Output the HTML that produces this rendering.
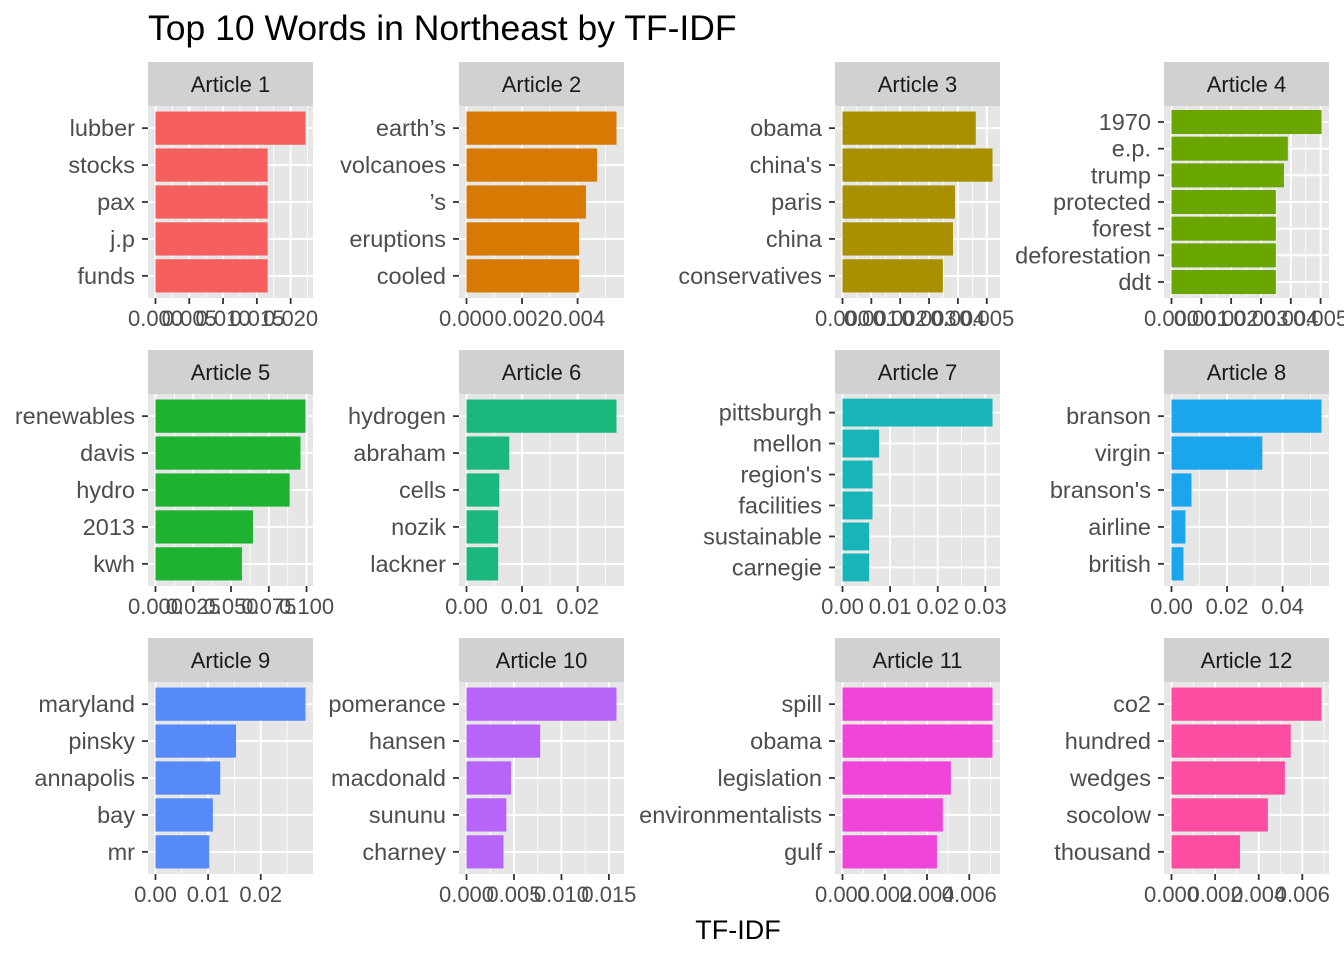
<!DOCTYPE html>
<html><head><meta charset="utf-8"><style>
html,body{margin:0;padding:0;background:#fff;}
svg text{font-family:"Liberation Sans",Arial,sans-serif;}
</style></head><body>
<svg id="chart" width="1344" height="960" viewBox="0 0 1344 960" xmlns="http://www.w3.org/2000/svg">
<rect width="1344" height="960" fill="#fff"/>
<text x="148" y="40" font-size="35.5" fill="#000">Top 10 Words in Northeast by TF-IDF</text>
<text x="738" y="939" font-size="27" fill="#000" text-anchor="middle">TF-IDF</text>
<g id="panels"></g>
</svg>
<script>
const articles = ["Article 1","Article 2","Article 3","Article 4","Article 5","Article 6","Article 7","Article 8","Article 9","Article 10","Article 11","Article 12"];
const words1 = ["lubber","stocks","pax","j.p","funds"];
const values1 = [0.0222,0.0166,0.0166,0.0166,0.0166];
const words2 = ["earth’s","volcanoes","’s","eruptions","cooled"];
const values2 = [0.0054,0.0047,0.0043,0.00405,0.00405];
const words3 = ["obama","china's","paris","china","conservatives"];
const values3 = [0.00462,0.0052,0.0039,0.00383,0.00348];
const words4 = ["1970","e.p.","trump","protected","forest","deforestation","ddt"];
const values4 = [0.00503,0.0039,0.00377,0.0035,0.0035,0.0035,0.0035];
const words5 = ["renewables","davis","hydro","2013","kwh"];
const values5 = [0.0993,0.096,0.0888,0.0645,0.0572];
const words6 = ["hydrogen","abraham","cells","nozik","lackner"];
const values6 = [0.027,0.0077,0.0059,0.0057,0.0057];
const words7 = ["pittsburgh","mellon","region's","facilities","sustainable","carnegie"];
const values7 = [0.0315,0.0077,0.0063,0.0063,0.0056,0.0056];
const words8 = ["branson","virgin","branson's","airline","british"];
const values8 = [0.054,0.0327,0.0072,0.005,0.0043];
const words9 = ["maryland","pinsky","annapolis","bay","mr"];
const values9 = [0.0285,0.0153,0.0123,0.0109,0.0102];
const words10 = ["pomerance","hansen","macdonald","sununu","charney"];
const values10 = [0.0158,0.00776,0.0047,0.0042,0.0039];
const words11 = ["spill","obama","legislation","environmentalists","gulf"];
const values11 = [0.0071,0.0071,0.00513,0.00475,0.00447];
const words12 = ["co2","hundred","wedges","socolow","thousand"];
const values12 = [0.00688,0.00547,0.0052,0.00442,0.00314];
const ticks1 = ["0.000","0.005","0.010","0.015","0.020"];
const ticks2 = ["0.000","0.002","0.004"];
const ticks3 = ["0.000","0.001","0.002","0.003","0.004","0.005"];
const ticks4 = ["0.000","0.001","0.002","0.003","0.004","0.005"];
const ticks5 = ["0.000","0.025","0.050","0.075","0.100"];
const ticks6 = ["0.00","0.01","0.02"];
const ticks7 = ["0.00","0.01","0.02","0.03"];
const ticks8 = ["0.00","0.02","0.04"];
const ticks9 = ["0.00","0.01","0.02"];
const ticks10 = ["0.000","0.005","0.010","0.015"];
const ticks11 = ["0.000","0.002","0.004","0.006"];
const ticks12 = ["0.000","0.002","0.004","0.006"];
const colors = ["#F55F5D","#D67A04","#A89000","#6BA600","#1DB230","#1AB87C","#17B5BA","#19A6EC","#558AF8","#B765F9","#EF45D9","#FD4DA0"];

const WORDS=[words1,words2,words3,words4,words5,words6,words7,words8,words9,words10,words11,words12];
const VALS=[values1,values2,values3,values4,values5,values6,values7,values8,values9,values10,values11,values12];
const TICKS=[ticks1,ticks2,ticks3,ticks4,ticks5,ticks6,ticks7,ticks8,ticks9,ticks10,ticks11,ticks12];
const NS="http://www.w3.org/2000/svg";
const root=document.getElementById('panels');
const colX=[148,459,835,1164], rowY=[62,350,638], PW=165, SH=44, PH=192;
function mk(tag,attrs,parent){const e=document.createElementNS(NS,tag);for(const k in attrs)e.setAttribute(k,attrs[k]);parent.appendChild(e);return e;}
articles.forEach((name,p)=>{
  const L=colX[p%4], T=rowY[Math.floor(p/4)]+SH;
  const g=mk('g',{},root);
  
  
  const strip=mk('rect',{x:L,y:T-SH,width:PW,height:SH,fill:'#d1d1d1'},g);
  
  
  const st=mk('text',{x:L+PW/2,y:T-SH/2+8,'font-size':'22','text-anchor':'middle',fill:'#1a1a1a'},g);
  st.textContent=name;
  
  
  const bg=mk('rect',{x:L,y:T,width:PW,height:PH,fill:'#e6e6e6'},g);
  
  
  const vals=VALS[p], words=WORDS[p], ticks=TICKS[p].map(Number);
  const mx=Math.max(...vals), lo=-0.05*mx, hi=1.05*mx;
  const xs=v=>L+(v-lo)/(hi-lo)*PW;
  const step=ticks[1]-ticks[0];
  for(let v=-step/2; v<=hi; v+=step){ if(v>=lo) mk('line',{x1:xs(v),x2:xs(v),y1:T,y2:T+PH,stroke:'#fff','stroke-width':0.8},g); }
  ticks.forEach(v=>{ if(v<=hi) mk('line',{x1:xs(v),x2:xs(v),y1:T,y2:T+PH,stroke:'#fff','stroke-width':1.8},g); });
  const n=words.length, unit=PH/(n-1+1.2);
  const ys=i=>T+(0.6+i)*unit;
  words.forEach((w,i)=>{ mk('line',{x1:L,x2:L+PW,y1:ys(i),y2:ys(i),stroke:'#fff','stroke-width':1.8},g); });
  words.forEach((w,i)=>{
    const b=mk('rect',{x:xs(0),y:ys(i)-0.45*unit,width:xs(vals[i])-xs(0),height:0.9*unit,fill:colors[p]},g);
    
    
    mk('line',{x1:L-6,x2:L,y1:ys(i),y2:ys(i),stroke:'#333','stroke-width':1.8},g);
    const t=mk('text',{x:L-13,y:ys(i)+8,'font-size':'23.5','text-anchor':'end',fill:'#4d4d4d'},g);
    t.textContent=w;
    
    
  });
  TICKS[p].forEach(lbl=>{
    const v=Number(lbl); if(v>hi) return;
    mk('line',{x1:xs(v),x2:xs(v),y1:T+PH,y2:T+PH+6,stroke:'#333','stroke-width':1.8},g);
    const t=mk('text',{x:xs(v),y:T+PH+28,'font-size':'22','text-anchor':'middle',fill:'#4d4d4d'},g);
    t.textContent=lbl;
    
    
  });
});
</script>
</body></html>
